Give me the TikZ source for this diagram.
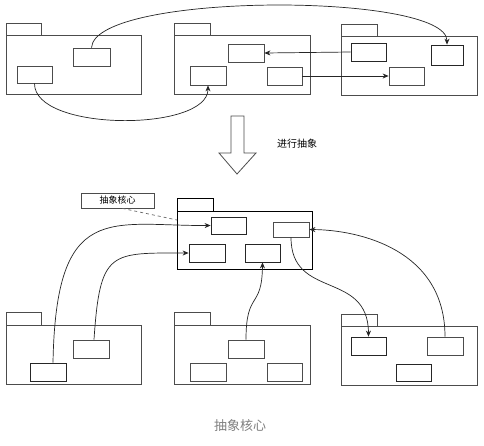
\documentclass[tikz,border=0pt]{standalone}
\usepackage{fontspec}
\setmainfont{Noto Sans CJK SC}
\usetikzlibrary{arrows.meta}
\tikzset{
  cls/.style={draw=black!70, line width=0.8pt, minimum width=35pt, minimum height=18pt, inner sep=0pt},
  pkgline/.style={draw=black!70, line width=0.8pt},
  link/.style={draw=black!85, line width=0.7pt, -{Stealth[length=6pt,width=5pt]}},
}
\begin{document}
\begin{tikzpicture}[x=1pt, y=-1pt]
\useasboundingbox[fill=white] (0,0) rectangle (484,445);

% top row packages
\draw[pkgline] (6,23) rectangle (41,35);
\draw[pkgline] (6,35) rectangle (141,94);
\draw[pkgline] (174,23) rectangle (210,35);
\draw[pkgline] (174,35) rectangle (310,94);
\draw[pkgline] (341,24) rectangle (377,36);
\draw[pkgline] (341,36) rectangle (477,95);

\node[cls, minimum width=37pt] (a1) at (91.5,57) {};
\node[cls, minimum height=17pt] (a2) at (34.5,74.5) {};
\node[cls, minimum width=36pt] (b1) at (246,53) {};
\node[cls, minimum width=36pt, minimum height=19pt] (b2) at (208,75.5) {};
\node[cls] (b3) at (284.5,76) {};
\node[cls, draw=black!85] (c1) at (368.5,52) {};
\node[cls, draw=black!85, minimum width=32pt, minimum height=20pt] (c2) at (447,55) {};
\node[cls] (c3) at (406.5,76) {};

\draw[link] (a1.north) .. controls (95,-8) and (447,-8) .. (c2.north);
\draw[link] (a2.south) .. controls (34,132) and (208,132) .. (b2.south);
\draw[link] (c1.west) -- (b1.east);
\draw[link] (b3.east) -- (c3.west);

% block arrow
\draw[pkgline] (231,116) -- (244,116) -- (244,153) -- (256,153) -- (237,174)
  -- (219,153) -- (231,153) -- cycle;
\node[font=\fontsize{10}{12}\selectfont] (abst) at (297,144) {进行抽象};

% core package
\draw[line width=0.8pt] (177,198) rectangle (213,211);
\draw[line width=0.8pt] (177,211) rectangle (312,269);
\coordinate (corejoin) at (177,220);
\node[cls, draw=black!85, minimum height=17pt] (k1) at (228.5,225.5) {};
\node[cls, draw=black!85, minimum width=36pt] (k2) at (207,253) {};
\node[cls, draw=black!85] (k3) at (262.5,253) {};
\node[cls, minimum width=36pt, minimum height=15pt] (k4) at (291,229.5) {};

\node[cls, minimum width=73pt, minimum height=15pt, font=\fontsize{9}{11}\selectfont] (lbl) at (117.5,200.5) {抽象核心};
\draw[black!60, line width=0.7pt, dashed] ([xshift=5pt]lbl.south) -- (corejoin);

% bottom row packages
\draw[pkgline] (6,312) rectangle (41,325);
\draw[pkgline] (6,325) rectangle (141,384);
\draw[pkgline] (174,312) rectangle (210,325);
\draw[pkgline] (174,325) rectangle (310,384);
\draw[pkgline] (341,314) rectangle (377,326);
\draw[pkgline] (341,326) rectangle (477,385);

\node[cls, minimum width=36pt] (d1) at (91,349) {};
\node[cls, draw=black!85, minimum width=36pt] (d2) at (48,372) {};
\node[cls, minimum width=36pt] (e1) at (246,349) {};
\node[cls, minimum width=36pt] (e2) at (208,372) {};
\node[cls] (e3) at (284.5,372) {};
\node[cls, draw=black!85] (f1) at (368.5,346) {};
\node[cls, minimum width=36pt] (f2) at (445,346) {};
\node[cls, draw=black!85, minimum height=17pt] (f3) at (413.5,372.5) {};

\draw[link] ([xshift=5pt]d2.north) .. controls (56,200) and (110,226) .. (k1.west);
\draw[link] ([xshift=3pt]d1.north) .. controls (100,250) and (110,253) .. (k2.west);
\draw[link] (e1.north) .. controls (246,290) and (262,310) .. (k3.south);
\draw[link] (k4.south) .. controls (291,300) and (368,270) .. (f1.north);
\draw[link] (f2.north) .. controls (445,250) and (360,230) .. (k4.east);

\node[text=gray, font=\fontsize{13}{15}\selectfont] (caption) at (240,426) {抽象核心};
\end{tikzpicture}
\end{document}
